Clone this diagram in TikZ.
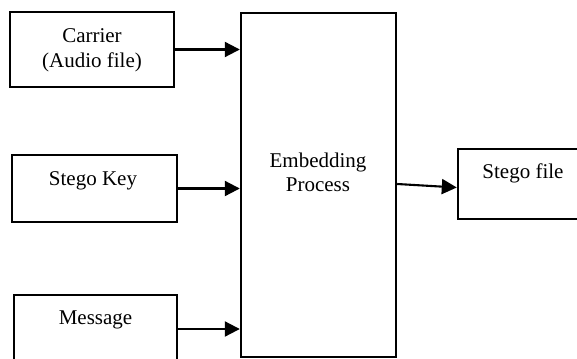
\documentclass[tikz,border=0pt]{standalone}
\usepackage{fontspec}
\setmainfont{Liberation Serif}
\usetikzlibrary{arrows.meta,calc}
\begin{document}
\begin{tikzpicture}[x=1pt,y=-1pt,
  box/.style={draw=black,line width=2.4pt,fill=white,rectangle,inner sep=0pt},
  txt/.style={font=\fontsize{21}{24.5}\selectfont,align=center,inner sep=0pt},
  arr/.style={line width=2.1pt,-{Triangle[length=15pt,width=15pt]}}]
\useasboundingbox (0,0) rectangle (577,358);
\clip (0,0) rectangle (577,358);
% input blocks
\node[box,minimum width=164pt,minimum height=75pt] (carrier) at (92,49.5) {};
\node[txt] (carriertext) at (92,50.5) {Carrier\\(Audio file)};
\node[box,minimum width=165pt,minimum height=67pt] (key) at (94.5,188.5) {};
\node[txt] (keytext) at (93,181) {Stego Key};
\node[box,minimum width=163pt,minimum height=68pt] (msg) at (95.5,329) {};
\node[txt] (msgtext) at (95.5,320) {Message};
% processing block
\node[box,minimum width=155pt,minimum height=344pt] (emb) at (318.5,185) {};
\node[txt] (embtext) at (318,172.5) {Embedding\\Process};
% output block (runs past the right edge)
\node[box,minimum width=150pt,minimum height=70pt] (stego) at (533,184) {};
\node[txt] (stegotext) at (523,173) {Stego file};
% connectors
\draw[arr] (carrier.east) -- (carrier.east -| emb.west);
\draw[arr] (key.east) -- (key.east -| emb.west);
\draw[arr] (msg.east) -- (msg.east -| emb.west);
\draw[arr] ($(emb.east)+(0,-1)$) -- ($(stego.west)+(0,3.5)$);
\end{tikzpicture}
\end{document}
